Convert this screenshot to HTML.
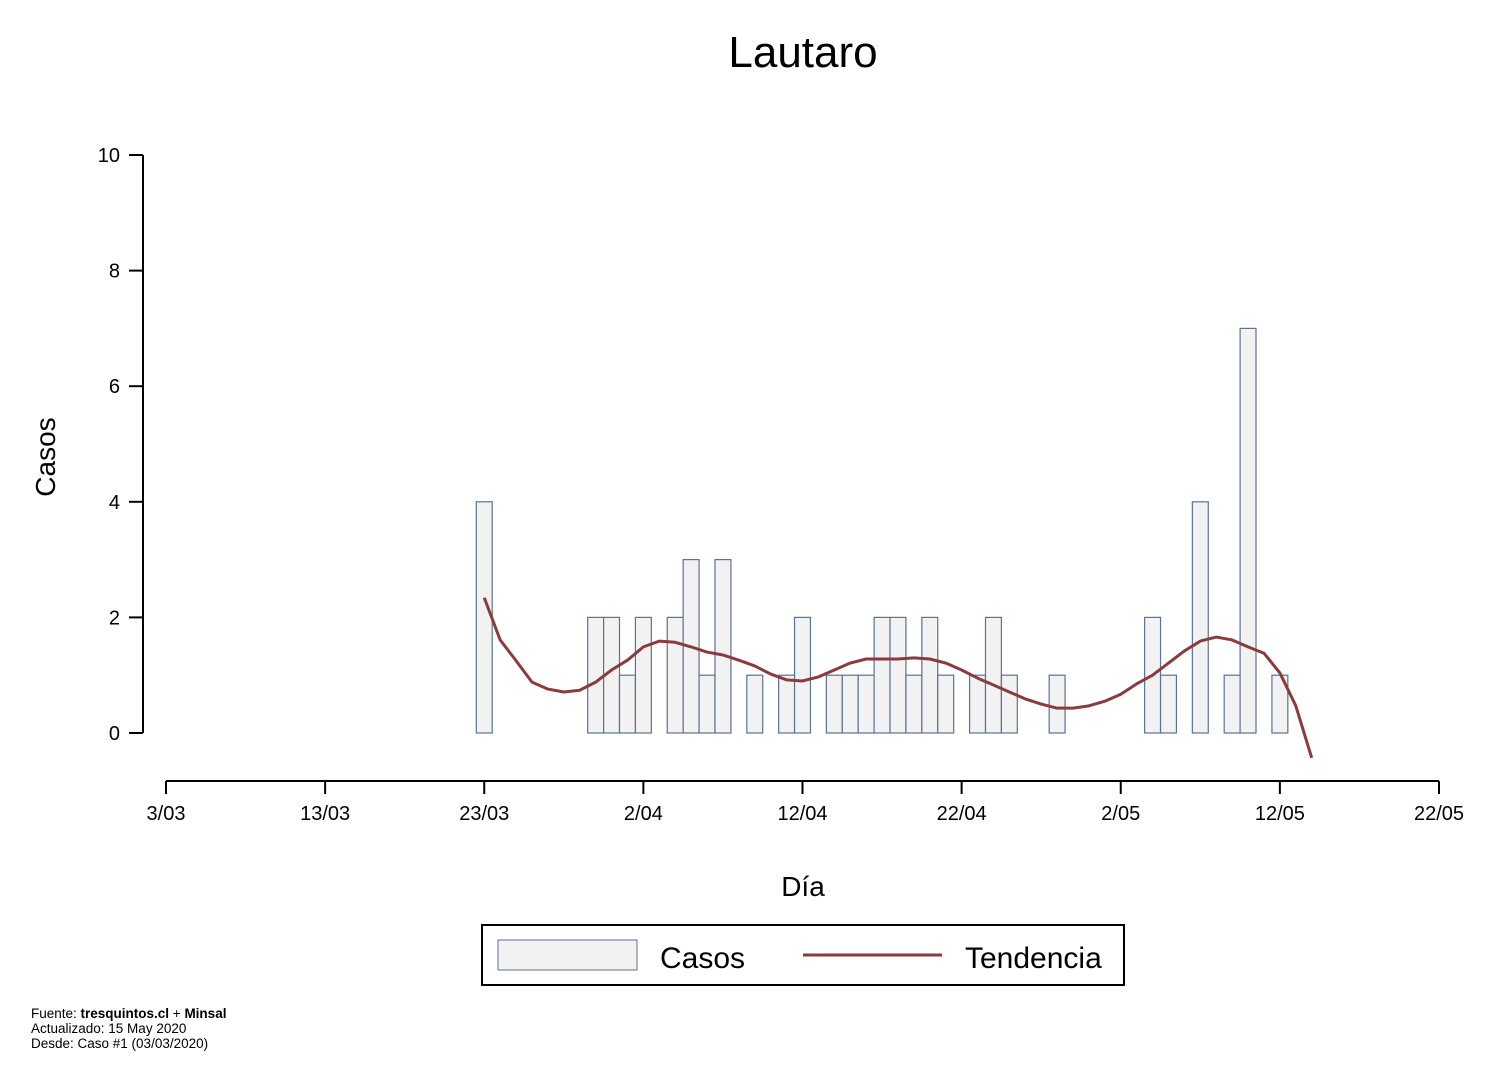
<!DOCTYPE html>
<html><head><meta charset="utf-8"><style>
body{margin:0;background:#fff;}
svg text{font-family:"Liberation Sans",Arial,sans-serif;fill:#000;}
</style></head><body>
<svg width="1488" height="1082" viewBox="0 0 1488 1082" xmlns="http://www.w3.org/2000/svg">
<text x="803" y="67" font-size="44" text-anchor="middle">Lautaro</text>
<g id="bars"></g>
<polyline id="trend" fill="none" stroke="#8b3a3e" stroke-width="3" stroke-linejoin="round"/>
<g id="yaxis"></g>
<g id="xaxis"></g>
<text transform="translate(55,457) rotate(-90)" font-size="28" text-anchor="middle">Casos</text>
<text x="803" y="896" font-size="28" text-anchor="middle">Día</text>
<g>
<rect x="482" y="925" width="642" height="60" fill="#fff" stroke="#000" stroke-width="2"/>
<rect x="498" y="940" width="139" height="30" fill="#f2f2f2" stroke="#5b7393" stroke-width="1"/>
<text x="660" y="968" font-size="30">Casos</text>
<line x1="803" y1="955" x2="942" y2="955" stroke="#8b3a3e" stroke-width="3"/>
<text x="965" y="968" font-size="30">Tendencia</text>
</g>
<g font-size="13.5">
<text x="31" y="1018">Fuente: <tspan font-weight="bold">tresquintos.cl</tspan> + <tspan font-weight="bold">Minsal</tspan></text>
<text x="31" y="1033">Actualizado: 15 May 2020</text>
<text x="31" y="1048">Desde: Caso #1  (03/03/2020)</text>
</g>
</svg>
<script>
const barDays=[20,27,28,29,30,32,33,34,35,37,39,40,42,43,44,45,46,47,48,49,51,52,53,56,62,63,65,67,68,70];
const barValues=[4,2,2,1,2,2,3,1,3,1,1,2,1,1,1,2,2,1,2,1,1,2,1,1,2,1,4,1,7,1];
const trendStartDay=20;
const trendValues=[2.34,1.61,1.25,0.88,0.76,0.71,0.74,0.88,1.09,1.26,1.49,1.59,1.57,1.49,1.40,1.35,1.26,1.16,1.02,0.92,0.90,0.97,1.09,1.21,1.28,1.28,1.28,1.30,1.28,1.21,1.09,0.95,0.83,0.71,0.59,0.50,0.43,0.43,0.47,0.55,0.67,0.85,1.00,1.21,1.42,1.59,1.66,1.61,1.49,1.38,1.04,0.47,-0.43];
const yTicks=[0,2,4,6,8,10];
const xTickDays=[0,10,20,30,40,50,60,70,80];
const xTickLabels=["3/03","13/03","23/03","2/04","12/04","22/04","2/05","12/05","22/05"];
const NS="http://www.w3.org/2000/svg";
const xs=d=>166+d*(1273/80);
const ys=v=>733-v*57.8;
const dayW=1273/80;
const mk=(t,a,p)=>{const e=document.createElementNS(NS,t);for(const k in a)e.setAttribute(k,a[k]);p.appendChild(e);return e;};
const bg=document.getElementById('bars');
barDays.forEach((d,i)=>{
 const r=mk('rect',{x:xs(d)-dayW/2,y:ys(barValues[i]),width:dayW,height:ys(0)-ys(barValues[i]),fill:'#f2f2f2',stroke:'#5b7393','stroke-width':1.2},bg);
 
 
});
document.getElementById('trend').setAttribute('points',trendValues.map((v,i)=>xs(trendStartDay+i)+','+ys(v)).join(' '));
const ya=document.getElementById('yaxis');
mk('line',{x1:143,y1:ys(10),x2:143,y2:ys(0),stroke:'#000','stroke-width':2},ya);
yTicks.forEach(v=>{
 mk('line',{x1:129,y1:ys(v),x2:143,y2:ys(v),stroke:'#000','stroke-width':2},ya);
 const t=mk('text',{x:120,y:ys(v)+7,'font-size':20,'text-anchor':'end'},ya);
 
 
 t.textContent=v;
});
const xa=document.getElementById('xaxis');
mk('line',{x1:xs(0),y1:781,x2:xs(80),y2:781,stroke:'#000','stroke-width':2},xa);
xTickDays.forEach((d,i)=>{
 mk('line',{x1:xs(d),y1:781,x2:xs(d),y2:794,stroke:'#000','stroke-width':2},xa);
 const t=mk('text',{x:xs(d),y:820,'font-size':20,'text-anchor':'middle'},xa);
 
 
 t.textContent=xTickLabels[i];
});
</script>
</body></html>
